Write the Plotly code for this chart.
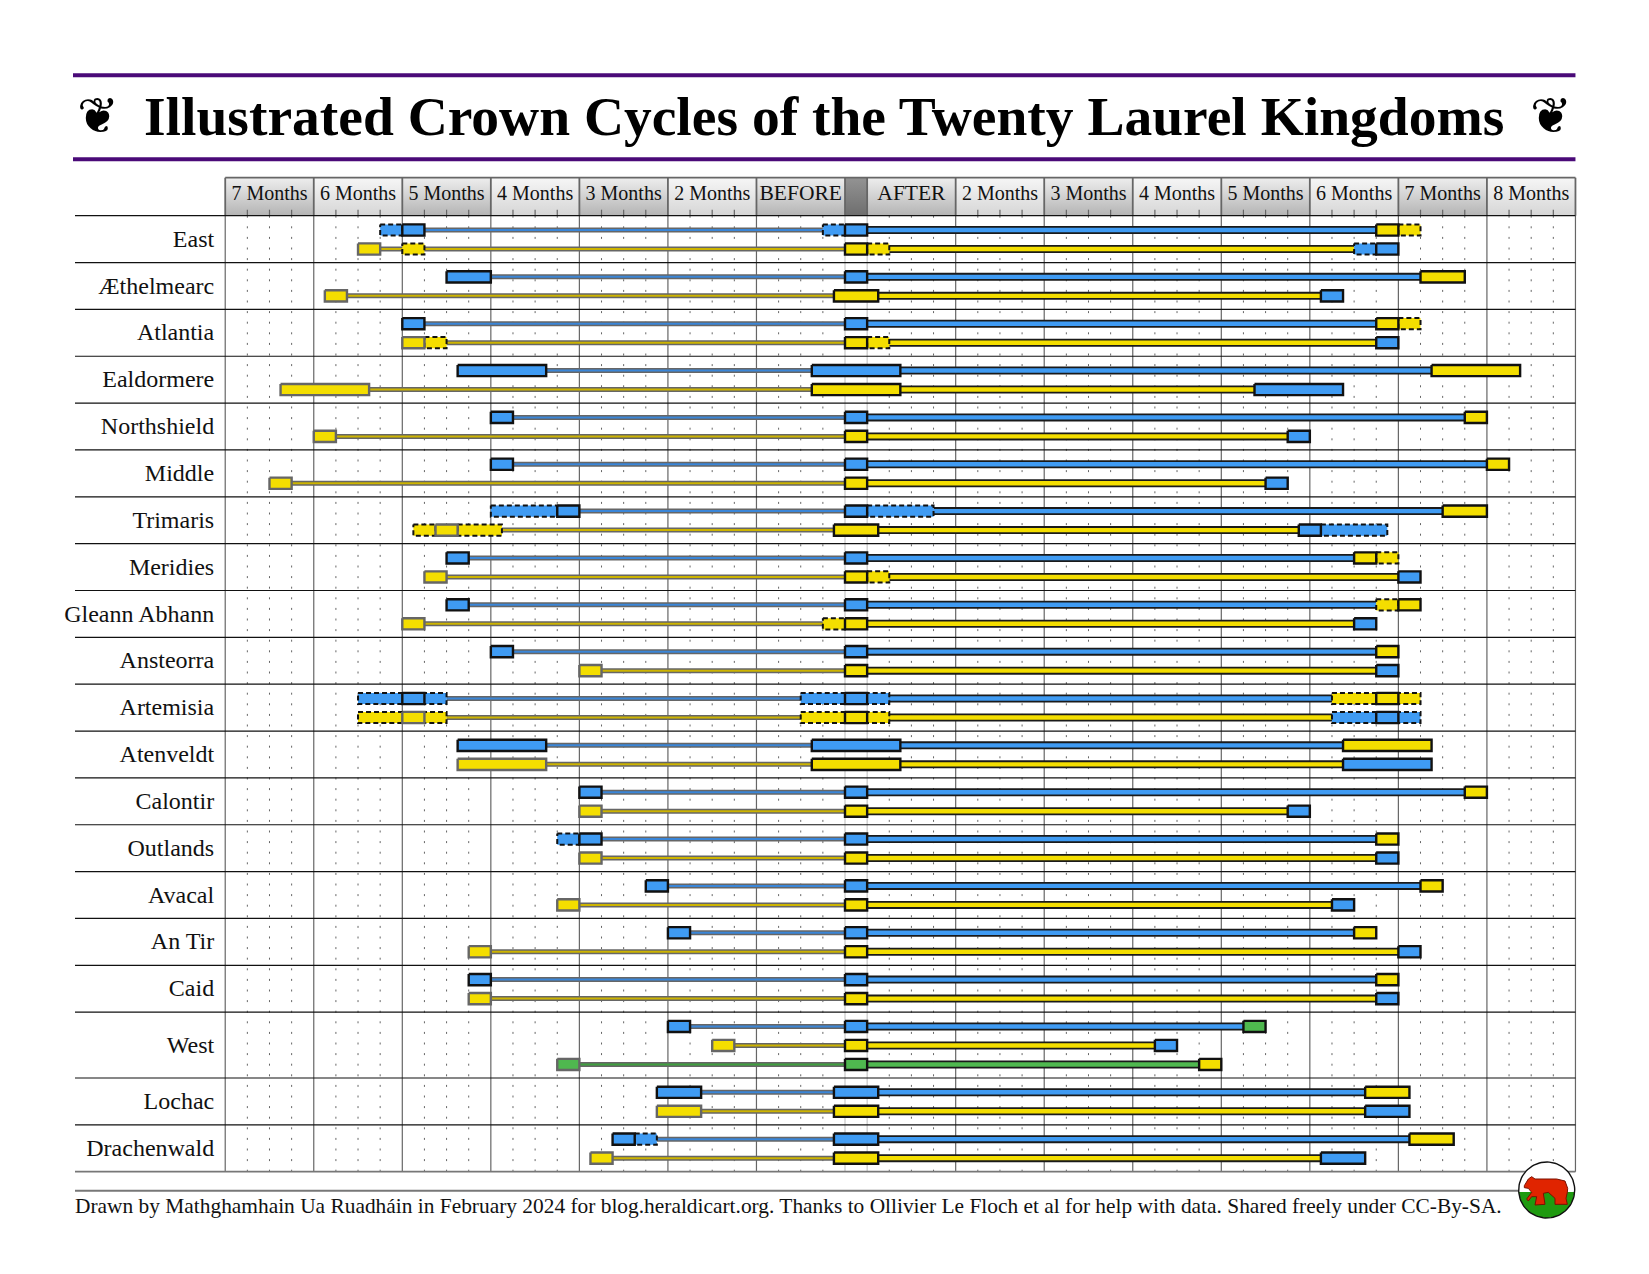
import numpy as np
import plotly.graph_objects as go

W, H = 1649, 1274
PX_PER_WEEK = 22.135
ZERO_PX = 845.0
GRID_TOP, TABLE_TOP, TABLE_BOTTOM = 177.7, 215.7, 1171.7
ROW_H, LANE_GAP, LANE_OFF = 46.85, 19.0, 14.3

title_text = "Illustrated Crown Cycles of the Twenty Laurel Kingdoms"
credit_text = ("Drawn by Mathghamhain Ua Ruadháin in February 2024 for blog.heraldicart.org. "
               "Thanks to Ollivier Le Floch et al for help with data. Shared freely under CC-By-SA.")

header_labels = ["7 Months", "6 Months", "5 Months", "4 Months", "3 Months", "2 Months", "BEFORE", "",
                 "AFTER", "2 Months", "3 Months", "4 Months", "5 Months", "6 Months", "7 Months", "8 Months"]
header_edges = [-28, -24, -20, -16, -12, -8, -4, 0, 1, 5, 9, 13, 17, 21, 25, 29, 33]

kingdoms = ["East", "Æthelmearc", "Atlantia", "Ealdormere", "Northshield", "Middle", "Trimaris", "Meridies",
            "Gleann Abhann", "Ansteorra", "Artemisia", "Atenveldt", "Calontir", "Outlands", "Avacal", "An Tir",
            "Caid", "West", "Lochac", "Drachenwald"]
lanes_per_row = [2, 2, 2, 2, 2, 2, 2, 2, 2, 2, 2, 2, 2, 2, 2, 2, 2, 3, 2, 2]

lane_color = ["B", "Y", "B", "Y", "B", "Y", "B", "Y", "B", "Y", "B", "Y", "B", "Y", "B", "Y", "B", "Y", "B", "Y",
              "B", "Y", "B", "Y", "B", "Y", "B", "Y", "B", "Y", "B", "Y", "B", "Y", "B", "Y", "G", "B", "Y", "B", "Y"]
thin_start = [-19, -21, -16, -22.5, -19, -18, -13.5, -21.5, -15, -23, -15, -25, -12, -15.5, -17, -18, -17, -19,
              -15, -11, -18, -18, -13.5, -13.5, -11, -11, -11, -11, -8, -12, -7, -16, -16, -16, -7, -5, -12,
              -6.5, -6.5, -8.5, -10.5]
thin_end = [-1, 0, 0, -0.5, 0, 0, -1.5, -1.5, 0, 0, 0, 0, 0, -0.5, 0, 0, 0, -1,
            0, 0, -2, -2, -1.5, -1.5, 0, 0, 0, 0, 0, 0, 0, 0, 0, 0, 0, 0, 0,
            -0.5, -0.5, -0.5, -0.5]
thick_start = [1, 2, 1, 1.5, 1, 2, 2.5, 2.5, 1, 1, 1, 1, 4, 1.5, 1, 2, 1, 1,
               1, 1, 2, 2, 2.5, 2.5, 1, 1, 1, 1, 1, 1, 1, 1, 1, 1, 1, 1, 1,
               1.5, 1.5, 1.5, 1.5]
thick_end = [24, 23, 26, 21.5, 24, 24, 26.5, 18.5, 28, 20, 29, 19, 27, 20.5, 23, 25, 24, 23,
             24, 24, 22, 22, 22.5, 22.5, 28, 20, 24, 24, 26, 22, 23, 25, 24, 24, 18, 14, 16,
             23.5, 23.5, 25.5, 21.5]

# (start week, end week, fill, style) per lane; style D = dashed outline, S = solid
lane_boxes = [
    [(-21, -20, "B", "D"), (-20, -19, "B", "S"), (-1, 0, "B", "D"), (0, 1, "B", "S"), (24, 25, "Y", "S"), (25, 26, "Y", "D")],
    [(-22, -21, "Y", "S"), (-20, -19, "Y", "D"), (0, 1, "Y", "S"), (1, 2, "Y", "D"), (23, 24, "B", "D"), (24, 25, "B", "S")],
    [(-18, -16, "B", "S"), (0, 1, "B", "S"), (26, 28, "Y", "S")],
    [(-23.5, -22.5, "Y", "S"), (-0.5, 1.5, "Y", "S"), (21.5, 22.5, "B", "S")],
    [(-20, -19, "B", "S"), (0, 1, "B", "S"), (24, 25, "Y", "S"), (25, 26, "Y", "D")],
    [(-20, -19, "Y", "S"), (-19, -18, "Y", "D"), (0, 1, "Y", "S"), (1, 2, "Y", "D"), (24, 25, "B", "S")],
    [(-17.5, -13.5, "B", "S"), (-1.5, 2.5, "B", "S"), (26.5, 30.5, "Y", "S")],
    [(-25.5, -21.5, "Y", "S"), (-1.5, 2.5, "Y", "S"), (18.5, 22.5, "B", "S")],
    [(-16, -15, "B", "S"), (0, 1, "B", "S"), (28, 29, "Y", "S")],
    [(-24, -23, "Y", "S"), (0, 1, "Y", "S"), (20, 21, "B", "S")],
    [(-16, -15, "B", "S"), (0, 1, "B", "S"), (29, 30, "Y", "S")],
    [(-26, -25, "Y", "S"), (0, 1, "Y", "S"), (19, 20, "B", "S")],
    [(-16, -13, "B", "D"), (-13, -12, "B", "S"), (0, 1, "B", "S"), (1, 4, "B", "D"), (27, 29, "Y", "S")],
    [(-19.5, -18.5, "Y", "D"), (-18.5, -17.5, "Y", "S"), (-17.5, -15.5, "Y", "D"), (-0.5, 1.5, "Y", "S"), (20.5, 21.5, "B", "S"), (21.5, 24.5, "B", "D")],
    [(-18, -17, "B", "S"), (0, 1, "B", "S"), (23, 24, "Y", "S"), (24, 25, "Y", "D")],
    [(-19, -18, "Y", "S"), (0, 1, "Y", "S"), (1, 2, "Y", "D"), (25, 26, "B", "S")],
    [(-18, -17, "B", "S"), (0, 1, "B", "S"), (24, 25, "Y", "D"), (25, 26, "Y", "S")],
    [(-20, -19, "Y", "S"), (-1, 0, "Y", "D"), (0, 1, "Y", "S"), (23, 24, "B", "S")],
    [(-16, -15, "B", "S"), (0, 1, "B", "S"), (24, 25, "Y", "S")],
    [(-12, -11, "Y", "S"), (0, 1, "Y", "S"), (24, 25, "B", "S")],
    [(-22, -18, "B", "D"), (-20, -19, "B", "S"), (-2, 2, "B", "D"), (0, 1, "B", "S"), (22, 26, "Y", "D"), (24, 25, "Y", "S")],
    [(-22, -18, "Y", "D"), (-20, -19, "Y", "S"), (-2, 2, "Y", "D"), (0, 1, "Y", "S"), (22, 26, "B", "D"), (24, 25, "B", "S")],
    [(-17.5, -13.5, "B", "S"), (-1.5, 2.5, "B", "S"), (22.5, 26.5, "Y", "S")],
    [(-17.5, -13.5, "Y", "S"), (-1.5, 2.5, "Y", "S"), (22.5, 26.5, "B", "S")],
    [(-12, -11, "B", "S"), (0, 1, "B", "S"), (28, 29, "Y", "S")],
    [(-12, -11, "Y", "S"), (0, 1, "Y", "S"), (20, 21, "B", "S")],
    [(-13, -12, "B", "D"), (-12, -11, "B", "S"), (0, 1, "B", "S"), (24, 25, "Y", "S")],
    [(-12, -11, "Y", "S"), (0, 1, "Y", "S"), (24, 25, "B", "S")],
    [(-9, -8, "B", "S"), (0, 1, "B", "S"), (26, 27, "Y", "S")],
    [(-13, -12, "Y", "S"), (0, 1, "Y", "S"), (22, 23, "B", "S")],
    [(-8, -7, "B", "S"), (0, 1, "B", "S"), (23, 24, "Y", "S")],
    [(-17, -16, "Y", "S"), (0, 1, "Y", "S"), (25, 26, "B", "S")],
    [(-17, -16, "B", "S"), (0, 1, "B", "S"), (24, 25, "Y", "S")],
    [(-17, -16, "Y", "S"), (0, 1, "Y", "S"), (24, 25, "B", "S")],
    [(-8, -7, "B", "S"), (0, 1, "B", "S"), (18, 19, "G", "S")],
    [(-6, -5, "Y", "S"), (0, 1, "Y", "S"), (14, 15, "B", "S")],
    [(-13, -12, "G", "S"), (0, 1, "G", "S"), (16, 17, "Y", "S")],
    [(-8.5, -6.5, "B", "S"), (-0.5, 1.5, "B", "S"), (23.5, 25.5, "Y", "S")],
    [(-8.5, -6.5, "Y", "S"), (-0.5, 1.5, "Y", "S"), (23.5, 25.5, "B", "S")],
    [(-10.5, -9.5, "B", "S"), (-9.5, -8.5, "B", "D"), (-0.5, 1.5, "B", "S"), (25.5, 27.5, "Y", "S")],
    [(-11.5, -10.5, "Y", "S"), (-0.5, 1.5, "Y", "S"), (21.5, 23.5, "B", "S")],
]

FILL = {"B": "#3f9bf3", "Y": "#f4de00", "G": "#4fb84f"}
THIN_CORE = {"B": "#3a86d8", "Y": "#cdb400", "G": "#3f9f3f"}


def ux(px):
    return (px - ZERO_PX) / PX_PER_WEEK


fig = go.Figure()


def line(xs, ys, color, width, dash=None):
    fig.add_trace(go.Scatter(x=xs, y=ys, mode="lines", line=dict(color=color, width=width, dash=dash),
                             hoverinfo="skip", showlegend=False))


def multi(segs):
    xs, ys = [], []
    for (a, b, c, d) in segs:
        xs += [a, b, None]
        ys += [c, d, None]
    return xs, ys


def poly(xs, ys, fill, lc="rgba(0,0,0,0)", lw=0, dash=None):
    fig.add_trace(go.Scatter(x=xs, y=ys, mode="lines", fill="toself", fillcolor=fill,
                             line=dict(color=lc, width=lw, dash=dash), hoverinfo="skip", showlegend=False))


# layout of rows
row_tops = [TABLE_TOP]
for n in lanes_per_row:
    row_tops.append(row_tops[-1] + ROW_H + (n - 2) * LANE_GAP)
lane_y = []
for i, n in enumerate(lanes_per_row):
    lane_y += [row_tops[i] + LANE_OFF + j * LANE_GAP for j in range(n)]
row_mid = [(row_tops[i] + row_tops[i + 1]) / 2 + 1.6 for i in range(len(kingdoms))]

# header cells
for i in range(len(header_labels)):
    a, b = header_edges[i], header_edges[i + 1]
    if header_labels[i] == "":
        scale = [[0, "#939393"], [1, "#6e6e6e"]]
    elif i % 2 == 0:
        scale = [[0, "#eeeeee"], [1, "#b4b4b4"]]
    else:
        scale = [[0, "#f6f6f6"], [1, "#d6d6d6"]]
    fig.add_trace(go.Scatter(x=[a, b, b, a, a], y=[GRID_TOP, GRID_TOP, TABLE_TOP, TABLE_TOP, GRID_TOP], mode="lines",
                             fill="toself", line=dict(width=0, color="rgba(0,0,0,0)"),
                             fillgradient=dict(type="vertical", colorscale=scale, start=GRID_TOP, stop=TABLE_TOP),
                             hoverinfo="skip", showlegend=False))

# week dots and ticks
month_lines = header_edges
weeks = [w for w in range(-27, 33) if w not in month_lines]
xs, ys = multi([(w, w, TABLE_TOP, TABLE_BOTTOM) for w in weeks])
line(xs, ys, "#666666", 1, "2px,8.6px")
ticked = [w for w in weeks if not (-4 < w < 0 or 1 < w < 5)]
xs, ys = multi([(w, w, TABLE_TOP - 6, TABLE_TOP) for w in ticked])
line(xs, ys, "#666666", 1.2)
# centre column edges
xs, ys = multi([(w, w, TABLE_TOP, TABLE_BOTTOM) for w in (0, 1)])
line(xs, ys, "#bbbbbb", 1)
# month lines
xs, ys = multi([(w, w, TABLE_TOP, TABLE_BOTTOM) for w in month_lines if w not in (0, 1)])
line(xs, ys, "#666666", 1.2)
# header frame
xs, ys = multi([(w, w, GRID_TOP, TABLE_TOP) for w in month_lines] + [(-28, 33, GRID_TOP, GRID_TOP)])
line(xs, ys, "#666666", 1.8)
# row separators
L, R = ux(75), 33
xs, ys = multi([(L, R, t, t) for t in row_tops[:-1]])
line(xs, ys, "#111111", 1.2)
line([L, R], [row_tops[-1], row_tops[-1]], "#777777", 1.8)
# footer rule
line([L, ux(1520)], [1190.7, 1190.7], "#777777", 2)
# purple rules
for yy in (75.3, 159.3):
    line([ux(73), 33], [yy, yy], "#4a0a78", 4)

# thin and thick lines
for col in "BYG":
    idx = [i for i, c in enumerate(lane_color) if c == col]
    xs, ys = multi([(thin_start[i], thin_end[i], lane_y[i], lane_y[i]) for i in idx])
    line(xs, ys, "#666666", 5)
    line(xs, ys, THIN_CORE[col], 2)
    xs, ys = multi([(thick_start[i], thick_end[i], lane_y[i], lane_y[i]) for i in idx])
    line(xs, ys, "#1a1a1a", 8)
    line(xs, ys, FILL[col], 4.4)

# boxes
HALF = 5.6


def rect(a, b, y):
    return [a, b, b, a, a, None], [y - HALF, y - HALF, y + HALF, y + HALF, y - HALF, None]


for kind in "DS":
    for col in "BYG":
        for lead in (True, False):
            xs, ys = [], []
            for i, boxes in enumerate(lane_boxes):
                for (a, b, c, s) in boxes:
                    if s == kind and c == col and (a < -4 and c != "B") == lead:
                        rx, ry = rect(a, b, lane_y[i])
                        xs += rx
                        ys += ry
            if not xs:
                continue
            if kind == "S":
                poly(xs, ys, FILL[col], "#666666" if lead else "#111111", 2.4)
            else:
                poly(xs, ys, FILL[col], "#111111", 2, "5px,3px")

# texts
fig.add_trace(go.Scatter(x=[ux(214.2)] * len(kingdoms), y=row_mid, text=kingdoms, mode="text",
                         textposition="middle left", textfont=dict(family="Liberation Serif", size=24, color="#111111"),
                         hoverinfo="skip", showlegend=False))
centres = [(header_edges[i] + header_edges[i + 1]) / 2 for i in range(len(header_labels))]
fig.add_trace(go.Scatter(x=centres, y=[195] * len(centres), text=header_labels, mode="text",
                         textposition="middle center",
                         textfont=dict(family="Liberation Serif", color="#111111",
                                       size=[21.5 if t.isupper() else 20 for t in header_labels]),
                         hoverinfo="skip", showlegend=False))

annos = [
    dict(x=ux(824), y=116, text="<b>" + title_text + "</b>", font=dict(family="Liberation Serif", size=55.5, color="#000000"), xanchor="center"),
    dict(x=ux(98), y=116, text="❦", font=dict(family="DejaVu Sans", size=50, color="#000000"), xanchor="center"),
    dict(x=ux(1551), y=116, text="❦", font=dict(family="DejaVu Sans", size=50, color="#000000"), xanchor="center"),
    dict(x=ux(72.5), y=1206, text=credit_text, font=dict(family="Liberation Serif", size=21.4, color="#111111"), xanchor="left"),
]
for a in annos:
    a.update(xref="x", yref="y", showarrow=False, yanchor="middle")

# badge
cx, cy, r = 1546.7, 1190.0, 28.0
th = np.linspace(0, 2 * np.pi, 90)
poly(list(ux(cx + r * np.cos(th))), list(cy + r * np.sin(th)), "#ffffff")
split = np.arcsin(2.0 / r)
th2 = np.linspace(split, np.pi - split, 50)
poly(list(ux(cx + r * np.cos(th2))), list(cy + r * np.sin(th2)), "#1f9a10")
line(list(ux(cx + r * np.cos(th))), list(cy + r * np.sin(th)), "#111111", 1.4)
bear = [(103, 92), (115, 72), (125, 65), (135, 72), (165, 72), (200, 72), (225, 78), (233, 100), (232, 112),
        (228, 130), (232, 148), (195, 148), (195, 130), (175, 112), (160, 115), (165, 148), (135, 150), (140, 125),
        (125, 125), (115, 138), (110, 132), (125, 112), (115, 100), (103, 98), (103, 92)]
poly([ux(1490 + p[0] / 3) for p in bear], [1155 + p[1] / 3 for p in bear], "#e02400", "#7a1000", 1)

fig.update_layout(
    width=W, height=H, margin=dict(l=0, r=0, t=0, b=0), paper_bgcolor="#ffffff", plot_bgcolor="#ffffff",
    showlegend=False, annotations=annos,
    xaxis=dict(range=[ux(0), ux(W)], visible=False, fixedrange=True),
    yaxis=dict(range=[H, 0], visible=False, fixedrange=True),
)
fig.write_html("out.html", config={"displayModeBar": False},
               post_script="document.body.style.margin='0';document.body.style.overflow='hidden';")
